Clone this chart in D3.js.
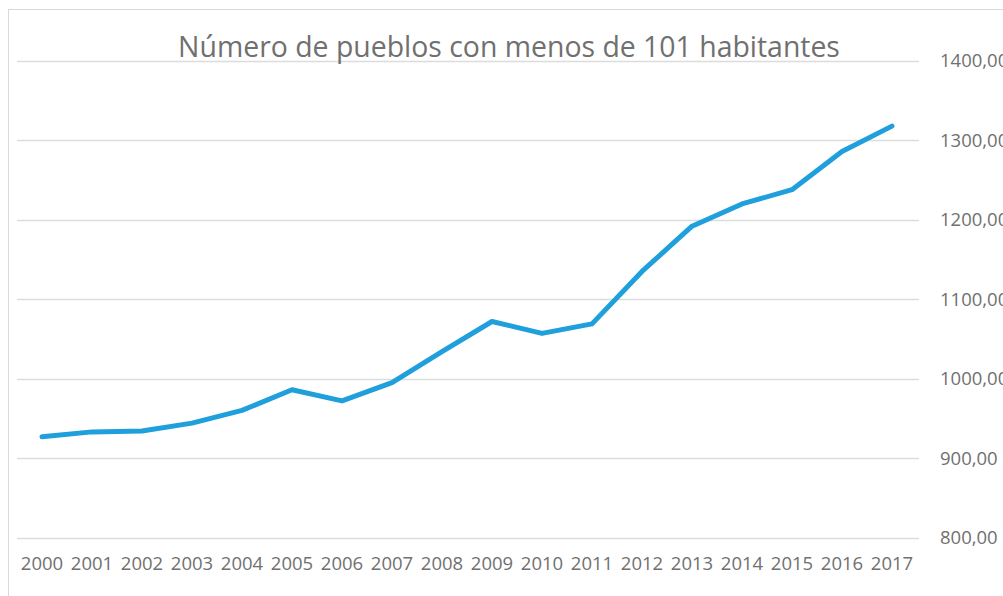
<!DOCTYPE html>
<html>
<head>
<meta charset="utf-8">
<script src="https://cdn.jsdelivr.net/npm/d3@7"></script>
<style>
  body { margin: 0; background: #fff; }
  svg { display: block; }
</style>
</head>
<body>
<div id="chart"></div>
<script>
// Datos
var years = ['2000', '2001', '2002', '2003', '2004', '2005', '2006', '2007', '2008',
             '2009', '2010', '2011', '2012', '2013', '2014', '2015', '2016', '2017'];
var pueblos = [927, 933, 934, 944, 960, 986, 972, 995, 1034,
               1072, 1057, 1069, 1135, 1192, 1220, 1238, 1286, 1318];
var yTicks = [800, 900, 1000, 1100, 1200, 1300, 1400];
var title = 'Número de pueblos con menos de 101 habitantes';

var width = 1003,
    height = 596;

var fontFamily = '"Open Sans", "Noto Sans", sans-serif',
    textColor = '#707070',
    gridColor = '#dcdcdc',
    lineColor = '#1f9fdb';

var svg = d3.select('#chart').append('svg')
    .attr('width', width)
    .attr('height', height);

// chart area border
svg.append('rect')
    .attr('x', 8.5)
    .attr('y', 9.5)
    .attr('width', width + 10)
    .attr('height', height + 10)
    .attr('fill', '#fff')
    .attr('stroke', '#d9d9d9')
    .attr('stroke-width', 1);

var x = d3.scaleBand()
    .domain(years)
    .range([17, 917]);

var y = d3.scaleLinear()
    .domain([800, 1400])
    .range([537.5, 61]);

// gridlines
svg.append('g')
    .selectAll('line')
    .data(yTicks)
    .enter()
    .append('line')
    .attr('x1', 17)
    .attr('x2', 919)
    .attr('y1', function(d) { return Math.round(y(d)) + 0.5; })
    .attr('y2', function(d) { return Math.round(y(d)) + 0.5; })
    .attr('stroke', gridColor)
    .attr('stroke-width', 1.5);

// right axis labels (cut at the right edge, as in the original)
var fmt = function(d) { return d3.format('.2f')(d).replace('.', ','); };
var yAxis = svg.append('g')
    .attr('transform', 'translate(940,0)')
    .call(d3.axisRight(y).tickValues(yTicks).tickSize(0).tickPadding(0).tickFormat(fmt));
yAxis.select('.domain').remove();
yAxis.selectAll('text')
    .style('font-family', fontFamily)
    .style('font-size', '18.5px')
    .attr('fill', textColor);

// bottom axis labels
var xAxis = svg.append('g')
    .attr('transform', 'translate(0,557)')
    .call(d3.axisBottom(x).tickSize(0).tickPadding(0));
xAxis.select('.domain').remove();
xAxis.selectAll('text')
    .style('font-family', fontFamily)
    .style('font-size', '18.5px')
    .attr('fill', textColor);

// title
var t = svg.append('text')
    .attr('x', 509)
    .attr('y', 57)
    .attr('text-anchor', 'middle')
    .style('font-family', fontFamily)
    .style('font-size', '27px')
    .attr('fill', textColor)
    .text(title);
// fit title to the width seen in the picture
var tw = t.node().getComputedTextLength();
t.style('font-size', (27 * 662 / tw).toFixed(2) + 'px');

// line
var line = d3.line()
    .x(function(d, i) { return x(years[i]) + x.bandwidth() / 2; })
    .y(function(d) { return y(d); });

svg.append('path')
    .datum(pueblos)
    .attr('d', line)
    .attr('fill', 'none')
    .attr('stroke', lineColor)
    .attr('stroke-width', 5)
    .attr('stroke-linejoin', 'round')
    .attr('stroke-linecap', 'round');
</script>
</body>
</html>
